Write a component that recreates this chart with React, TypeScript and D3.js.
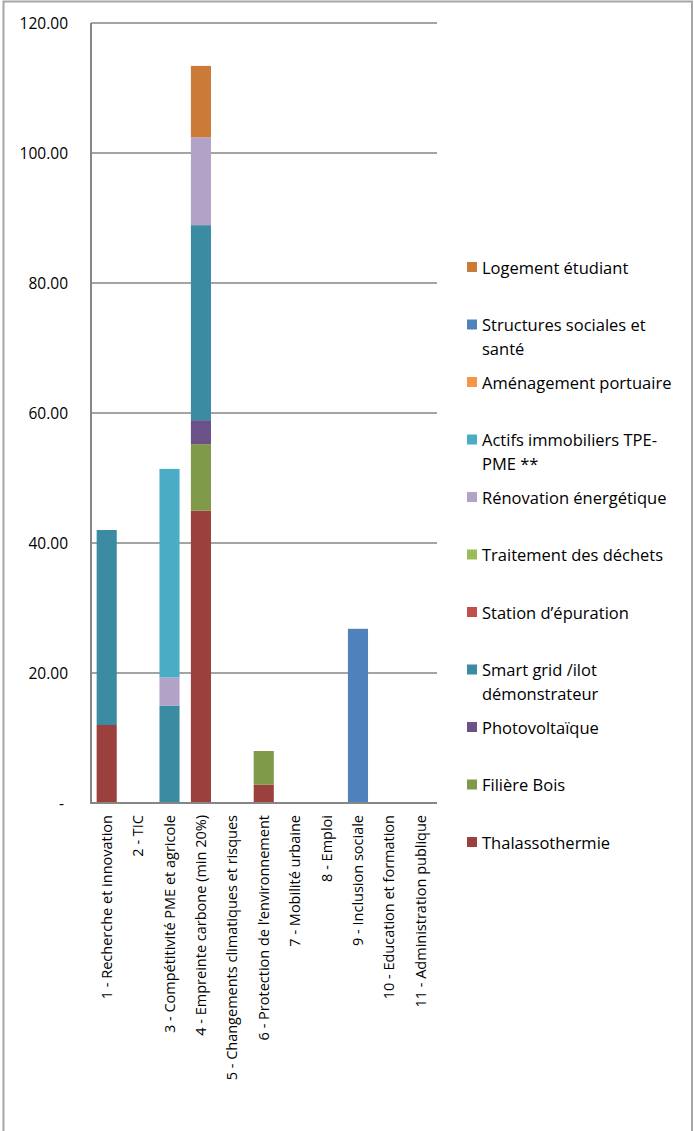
import * as d3 from "d3";
import { useEffect, useRef } from "react";

const categories = [
  "1 - Recherche et innovation",
  "2 - TIC",
  "3 - Compétitivité PME et agricole",
  "4 - Empreinte carbone (min 20%)",
  "5 - Changements climatiques et risques",
  "6 - Protection de l\u2019environnement",
  "7 - Mobilité urbaine",
  "8 - Emploi",
  "9 - Inclusion sociale",
  "10 - Education et formation",
  "11 - Administration publique",
];

// series in stacking order (bottom first)
const seriesNames = [
  "Thalassothermie",
  "Filière Bois",
  "Photovoltaïque",
  "Smart grid /ilot démonstrateur",
  "Station d\u2019épuration",
  "Traitement des déchets",
  "Rénovation énergétique",
  "Actifs immobiliers TPE-PME **",
  "Aménagement portuaire",
  "Structures sociales et santé",
  "Logement étudiant",
];
const seriesColors = [
  "#9c403e", "#7f9a48", "#6a5289", "#3b8ba3", "#c0504d", "#9bbb59",
  "#b3a2c7", "#4bacc6", "#f79646", "#4f81bd", "#cc7a37",
];

const thalasso = [12, 0, 0, 45, 0, 2.8, 0, 0, 0, 0, 0];
const filiereBois = [0, 0, 0, 10.2, 0, 5.2, 0, 0, 0, 0, 0];
const photovoltaique = [0, 0, 0, 3.7, 0, 0, 0, 0, 0, 0, 0];
const smartGrid = [30, 0, 15, 30, 0, 0, 0, 0, 0, 0, 0];
const stationEpuration = [0, 0, 0, 0, 0, 0, 0, 0, 0, 0, 0];
const traitementDechets = [0, 0, 0, 0, 0, 0, 0, 0, 0, 0, 0];
const renovation = [0, 0, 4.3, 13.5, 0, 0, 0, 0, 0, 0, 0];
const actifsImmo = [0, 0, 32.1, 0, 0, 0, 0, 0, 0, 0, 0];
const amenagementPort = [0, 0, 0, 0, 0, 0, 0, 0, 0, 0, 0];
const structuresSociales = [0, 0, 0, 0, 0, 0, 0, 0, 26.8, 0, 0];
const logementEtudiant = [0, 0, 0, 11, 0, 0, 0, 0, 0, 0, 0];

const seriesValues = [
  thalasso, filiereBois, photovoltaique, smartGrid, stationEpuration,
  traitementDechets, renovation, actifsImmo, amenagementPort,
  structuresSociales, logementEtudiant,
];

const yTicks = [0, 20, 40, 60, 80, 100, 120];

const legendLines: string[][] = [
  ["Logement étudiant"],
  ["Structures sociales et", "santé"],
  ["Aménagement portuaire"],
  ["Actifs immobiliers TPE-", "PME **"],
  ["Rénovation énergétique"],
  ["Traitement des déchets"],
  ["Station d\u2019épuration"],
  ["Smart grid /ilot", "démonstrateur"],
  ["Photovoltaïque"],
  ["Filière Bois"],
  ["Thalassothermie"],
];

const W = 694;
const H = 1131;
const FONT = "'Open Sans', Lato, sans-serif";

function App() {
  const ref = useRef<SVGSVGElement>(null);

  useEffect(() => {
    const svg = d3.select(ref.current);
    svg.selectAll("*").remove();

    svg.append("rect").attr("width", W).attr("height", H).attr("fill", "#fff");
    // outer frame
    svg.append("rect")
      .attr("x", 3.5).attr("y", 1.5)
      .attr("width", 688.5).attr("height", H + 10)
      .attr("fill", "none").attr("stroke", "#a6a6a6").attr("stroke-width", 2);

    const x = d3.scaleBand().domain(categories).range([91, 436.5]).paddingInner(0.36).paddingOuter(0.18);
    const y = d3.scaleLinear().domain([0, 120]).range([803, 23]);

    // gridlines
    svg.append("g").selectAll("line").data(yTicks.filter(t => t > 0)).join("line")
      .attr("x1", 91).attr("x2", 437)
      .attr("y1", d => y(d)).attr("y2", d => y(d))
      .attr("stroke", "#868686").attr("stroke-width", 1.5);

    // stacked bars
    const table = categories.map((c, i) => {
      const row: any = { cat: c };
      seriesNames.forEach((s, k) => (row[s] = seriesValues[k][i]));
      return row;
    });
    const stacked = d3.stack().keys(seriesNames)(table);
    svg.append("g").selectAll("g").data(stacked).join("g")
      .attr("fill", (_, k) => seriesColors[k])
      .selectAll("rect").data(d => d.filter(p => p[1] - p[0] > 0)).join("rect")
      .attr("x", d => x((d.data as any).cat)!)
      .attr("width", x.bandwidth())
      .attr("y", d => y(d[1]))
      .attr("height", d => y(d[0]) - y(d[1]));

    // axes lines
    svg.append("line").attr("x1", 91).attr("x2", 91).attr("y1", 23).attr("y2", 804)
      .attr("stroke", "#868686").attr("stroke-width", 2);
    svg.append("line").attr("x1", 90).attr("x2", 437).attr("y1", 803).attr("y2", 803)
      .attr("stroke", "#868686").attr("stroke-width", 2);

    // y tick labels
    svg.append("g").selectAll("text").data(yTicks).join("text")
      .attr("x", d => (d === 0 ? 64 : 68))
      .attr("y", d => y(d) + 6)
      .attr("text-anchor", "end")
      .attr("font-family", FONT).attr("font-size", 15.5).attr("fill", "#000")
      .text(d => (d === 0 ? "-" : d3.format(".2f")(d)));

    // x labels (rotated)
    svg.append("g").selectAll("text").data(categories).join("text")
      .attr("transform", d => `translate(${x(d)! + x.bandwidth() / 2 + 5},815) rotate(-90)`)
      .attr("text-anchor", "end")
      .attr("font-family", FONT).attr("font-size", 14.5).attr("fill", "#000")
      .text(d => d);

    // legend
    const lg = svg.append("g").selectAll("g").data(legendLines).join("g")
      .attr("transform", (_, i) => `translate(467,${268 + i * 57.5})`);
    lg.append("rect")
      .attr("x", 0).attr("y", -6).attr("width", 10).attr("height", 10)
      .attr("fill", (_, i) => seriesColors[seriesColors.length - 1 - i]);
    lg.each(function (lines) {
      const g = d3.select(this);
      lines.forEach((t, j) => {
        g.append("text")
          .attr("x", 15).attr("y", j * 24 + 5.5)
          .attr("font-family", FONT).attr("font-size", 16.5).attr("fill", "#000")
          .text(t);
      });
    });
  }, []);

  return (
    <svg ref={ref} width={W} height={H}
      style={{ position: "absolute", left: 0, top: 0, display: "block" }} />
  );
}

export default App;
